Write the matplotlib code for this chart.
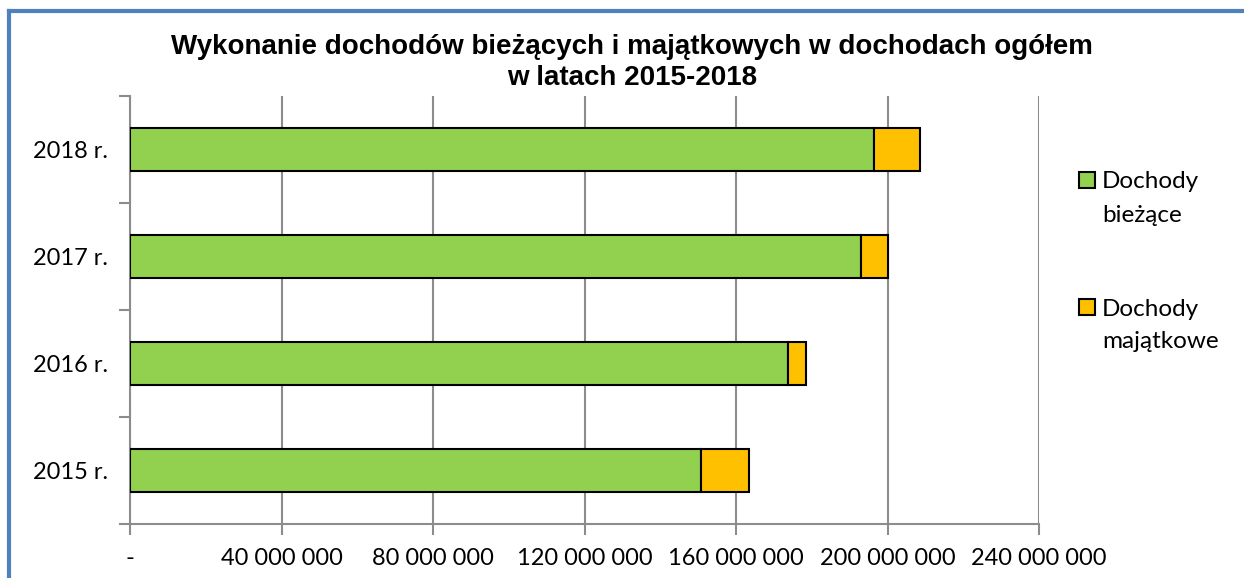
import numpy as np
import matplotlib.pyplot as plt
from matplotlib.ticker import FixedLocator, FuncFormatter
from matplotlib.patches import Rectangle
from matplotlib.lines import Line2D

years = ["2015 r.", "2016 r.", "2017 r.", "2018 r."]
biezace = [150.8e6, 173.7e6, 193.0e6, 196.4e6]
majatkowe = [12.6e6, 4.8e6, 7.1e6, 12.2e6]
xticks = [0, 40e6, 80e6, 120e6, 160e6, 200e6, 240e6]
legend_labels = [["Dochody", "bieżące"], ["Dochody", "majątkowe"]]

green = "#92D050"
orange = "#FFC000"
grid_c = "#8c8c8c"

W, H = 1244, 578
fig = plt.figure(figsize=(W / 100, H / 100), dpi=100)
ax = fig.add_axes([130/W, 54/H, 909/W, 428/H])

y = np.arange(len(years))
ax.barh(y, biezace, height=0.4, color=green, edgecolor="black", linewidth=1.5, zorder=3)
ax.barh(y, majatkowe, left=biezace, height=0.4, color=orange, edgecolor="black", linewidth=1.5, zorder=3)

ax.set_xlim(0, 240e6)
ax.set_ylim(-0.5, len(years) - 0.5)

def fmt(v, pos):
    if v == 0:
        return "-"
    return f"{int(v):,}".replace(",", " ")

ax.xaxis.set_major_locator(FixedLocator(xticks))
ax.xaxis.set_major_formatter(FuncFormatter(fmt))
ax.grid(axis="x", color=grid_c, linewidth=1.5, zorder=0)
ax.tick_params(axis="x", length=8, width=1.5, color=grid_c, pad=9, labelsize=17)

ax.set_yticks(y)
ax.set_yticklabels(years)
ax.set_yticks(np.arange(-0.5, len(years)), minor=True)
ax.tick_params(axis="y", which="major", length=0, pad=16, labelsize=17)
ax.tick_params(axis="y", which="minor", length=8, width=1.5, color=grid_c)

for lab in ax.get_xticklabels() + ax.get_yticklabels():
    lab.set_family("Lato")

for s in ["top", "right"]:
    ax.spines[s].set_visible(False)
for s in ["left", "bottom"]:
    ax.spines[s].set_color(grid_c)
    ax.spines[s].set_linewidth(1.5)

fig.text(0.508, 1 - 47/H, "Wykonanie dochodów bieżących i majątkowych w dochodach ogółem",
         ha="center", va="center", fontsize=20, fontweight="bold", family="Liberation Sans")
fig.text(0.508, 1 - 78/H, "w latach 2015-2018",
         ha="center", va="center", fontsize=20, fontweight="bold", family="Liberation Sans")

# legend drawn by hand so the box sits next to the first line
for i, (lines, col) in enumerate(zip(legend_labels, [green, orange])):
    yc = 180 + i * 127
    fig.add_artist(Rectangle((1079/W, 1 - (yc + 8)/H), 16/W, 16/H, facecolor=col,
                             edgecolor="black", linewidth=1.5, transform=fig.transFigure))
    for j, line in enumerate(lines):
        fig.text(1102/W, 1 - (yc + j * 33)/H, line, ha="left", va="center_baseline",
                 fontsize=17.5, family="Lato")

# blue frame on left and top
fig.add_artist(Line2D([9/W, 9/W], [0, 1 - 11/H], color="#4F81BD", linewidth=3, transform=fig.transFigure))
fig.add_artist(Line2D([9/W, 1], [1 - 11/H, 1 - 11/H], color="#4F81BD", linewidth=3, transform=fig.transFigure))

fig.savefig("out.png", dpi=100)
